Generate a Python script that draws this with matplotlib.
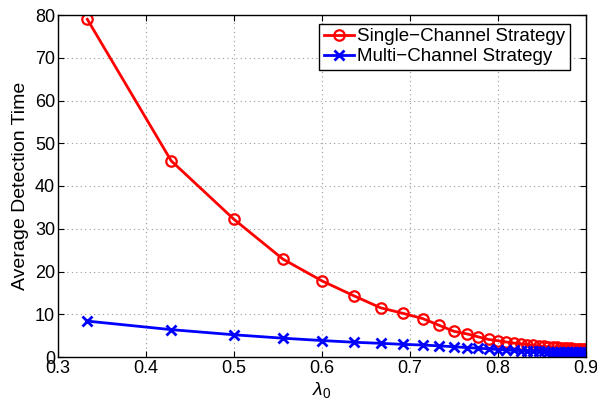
import matplotlib
matplotlib.use("Agg")
import matplotlib.pyplot as plt

# lambda_0 values (n/(n+4), n = 2..36)
lam = [0.3333, 0.4286, 0.5, 0.5556, 0.6, 0.6364, 0.6667, 0.6923, 0.7143, 0.7333,
       0.75, 0.7647, 0.7778, 0.7895, 0.8, 0.8095, 0.8182, 0.8261, 0.8333, 0.84,
       0.8462, 0.8519, 0.8571, 0.8621, 0.8667, 0.871, 0.875, 0.8788, 0.8824, 0.8857,
       0.8889, 0.8919, 0.8947, 0.8974, 0.9]

single = [79.0, 45.9, 32.2, 22.9, 17.8, 14.3, 11.5, 10.2, 9.0, 7.4,
          6.0, 5.4, 4.7, 4.1, 3.8, 3.5, 3.25, 3.05, 2.9, 2.75,
          2.62, 2.5, 2.4, 2.32, 2.25, 2.18, 2.12, 2.06, 2.01, 1.97,
          1.93, 1.89, 1.86, 1.83, 1.8]

multi = [8.4, 6.4, 5.2, 4.4, 3.85, 3.45, 3.2, 2.95, 2.8, 2.6,
         2.4, 2.2, 2.05, 1.9, 1.75, 1.65, 1.55, 1.48, 1.42, 1.37,
         1.33, 1.29, 1.26, 1.23, 1.2, 1.18, 1.16, 1.14, 1.12, 1.1,
         1.09, 1.08, 1.07, 1.06, 1.05]

xticks = [0.3, 0.4, 0.5, 0.6, 0.7, 0.8, 0.9]
yticks = [0, 10, 20, 30, 40, 50, 60, 70, 80]

plt.rcParams["font.family"] = ["Liberation Sans", "DejaVu Sans"]
plt.rcParams["mathtext.fontset"] = "custom"
plt.rcParams["mathtext.rm"] = "Liberation Sans"
plt.rcParams["mathtext.it"] = "Liberation Sans:italic"

fig = plt.figure(figsize=(5.97, 4.03), dpi=100)
ax = fig.add_axes([58 / 597, 1 - 357 / 403, 528 / 597, 342 / 403])

ax.plot(lam, single, color="red", lw=2, marker="o", ms=7.5, mfc="none", mew=1.6,
        label="Single\u2212Channel Strategy")
ax.plot(lam, multi, color="blue", lw=2, marker="x", ms=7.5, mew=2,
        label="Multi\u2212Channel Strategy")

ax.set_xlim(0.3, 0.9)
ax.set_ylim(0, 80)
ax.set_xticks(xticks)
ax.set_yticks(yticks)
ax.set_xticklabels([f"{t:g}" for t in xticks])
ax.tick_params(direction="in", top=True, right=True, labelsize=13, length=4, pad=2)
ax.grid(True, linestyle=(0, (1, 3)), color="#999999", linewidth=0.8)
for s in ax.spines.values():
    s.set_linewidth(1)

ax.set_xlabel(r"$\lambda_0$", fontsize=14, labelpad=2)
ax.set_ylabel("Average Detection Time", fontsize=14, labelpad=4)

leg = ax.legend(loc="upper right", bbox_to_anchor=(0.97, 0.975), fontsize=13.5,
                fancybox=False, framealpha=1, edgecolor="black",
                handlelength=1.6, handletextpad=0.2, borderpad=0.25,
                labelspacing=0.15, borderaxespad=0)
leg.get_frame().set_linewidth(1)

fig.savefig("out.png", dpi=100)
